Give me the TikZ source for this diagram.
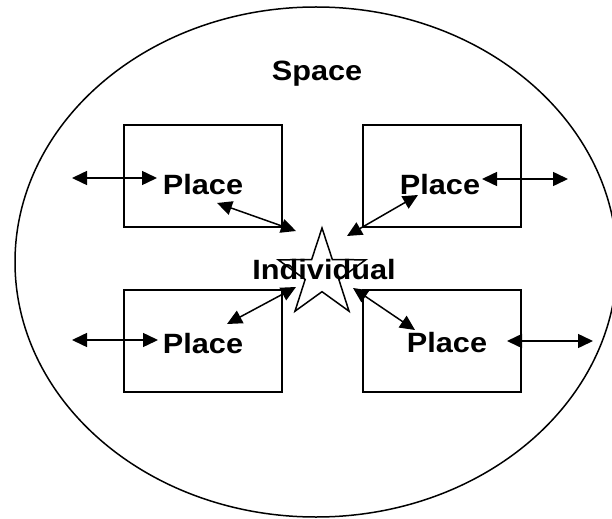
\documentclass[tikz,border=0pt]{standalone}
\usepackage{fontspec}
\newfontfamily\labelfont[FakeStretch=1.1]{Liberation Sans}
\usetikzlibrary{shapes.geometric,arrows.meta}

\tikzset{
  lbl/.style={font=\labelfont\bfseries\fontsize{28}{32}\selectfont, inner sep=2bp},
  placebox/.style={draw, line width=1.5bp, minimum width=158bp, minimum height=102bp, inner sep=0},
  link/.style={line width=1.5bp, {Triangle[length=15bp,width=14bp]}-{Triangle[length=15bp,width=14bp]}}
}

\begin{document}
\begin{tikzpicture}[x=1bp,y=-1bp]
\useasboundingbox (0,0) rectangle (612,519);
\begin{scope}
\clip (0,0) rectangle (612,519);
\draw[line width=1.5bp] (316,262) ellipse [x radius=301, y radius=255];
\end{scope}

\node[lbl] (space) at (317,74) {Space};

% places
\node[placebox] (box1) at (203,176) {};
\node[placebox] (box2) at (442,176) {};
\node[placebox] (box3) at (203,341) {};
\node[placebox] (box4) at (442,341) {};
\node[lbl] (place1) at (203,185) {Place};
\node[lbl] (place2) at (440,185) {Place};
\node[lbl] (place3) at (203,344) {Place};
\node[lbl] (place4) at (447,343) {Place};

% individual
\node[star, star points=5, star point ratio=2.6, minimum size=92bp, draw, line width=1.5bp, inner sep=0] (star) at (322,274) {};
\node[lbl] (indiv) at (324,270) {Individual};

% arrow ends
\coordinate (out1) at (72,178);   \coordinate (in1) at (157,178);
\coordinate (d1a) at (217,203);   \coordinate (d1b) at (296,231);
\coordinate (d2a) at (347,236);   \coordinate (d2b) at (418,195);
\coordinate (in2) at (482,179);   \coordinate (out2) at (568,179);
\coordinate (out3) at (72,340);   \coordinate (in3) at (158,340);
\coordinate (d3a) at (227,324);   \coordinate (d3b) at (296,287);
\coordinate (d4a) at (353,288);   \coordinate (d4b) at (415,330);
\coordinate (in4) at (507,341);   \coordinate (out4) at (593,341);

\draw[link] (out1) -- (in1);
\draw[link] (d1a) -- (d1b);
\draw[link] (d2a) -- (d2b);
\draw[link] (in2) -- (out2);
\draw[link] (out3) -- (in3);
\draw[link] (d3a) -- (d3b);
\draw[link] (d4a) -- (d4b);
\draw[link] (in4) -- (out4);
\end{tikzpicture}
\end{document}
